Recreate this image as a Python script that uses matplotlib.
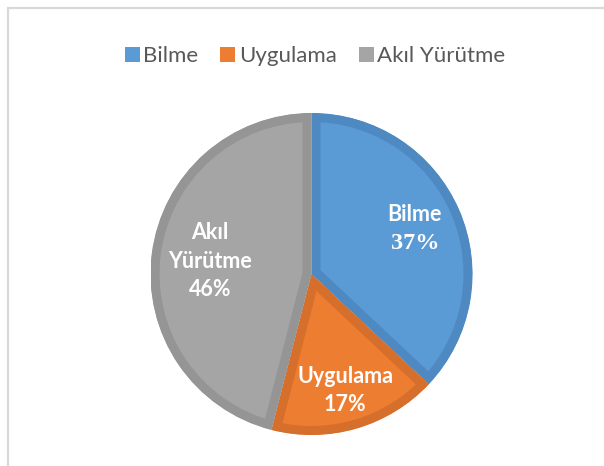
import matplotlib
matplotlib.use("Agg")
import matplotlib.pyplot as plt
import matplotlib.patches as mpatches
import numpy as np

categories = ["Bilme", "Uygulama", "Akıl Yürütme"]
values = [37, 17, 46]
label_lines = [["Bilme", "37%"], ["Uygulama", "17%"], ["Akıl", "Yürütme", "46%"]]

fill_colors = ["#5B9BD5", "#ED7D31", "#A5A5A5"]
edge_colors = ["#4F89C2", "#D56F2B", "#959595"]
label_dist = [0.70, 0.755, 0.635]

W, H = 604, 466
fig = plt.figure(figsize=(W / 100, H / 100), dpi=100)
fig.patch.set_facecolor("white")

# chart frame (light gray border)
frame = mpatches.Rectangle((8 / W, -0.1), 1.2, 1 - 8 / H + 0.1, transform=fig.transFigure,
                           fill=False, edgecolor="#D9D9D9", linewidth=1.6)
fig.add_artist(frame)

cx, cy, r = 311.5, 274, 161
ax = fig.add_axes([(cx - r) / W, (H - cy - r) / H, 2 * r / W, 2 * r / H])
wedges, _ = ax.pie(values, colors=fill_colors, startangle=90, counterclock=False,
                   radius=1.0, wedgeprops=dict(linewidth=13))
for w, ec in zip(wedges, edge_colors):
    w.set_edgecolor(ec)
    w.set_clip_on(True)
    w.set_clip_path(w)
ax.set_xlim(-1, 1)
ax.set_ylim(-1, 1)
ax.set_aspect("auto")
ax.axis("off")

line_h = 28.5 / r
for i, w in enumerate(wedges):
    ang = np.deg2rad((w.theta1 + w.theta2) / 2)
    x = label_dist[i] * np.cos(ang)
    y = label_dist[i] * np.sin(ang)
    lines = label_lines[i]
    n = len(lines)
    for j, t in enumerate(lines):
        yy = y + ((n - 1) / 2 - j) * line_h
        serif = (i == 0 and j == n - 1)
        fam = "Liberation Serif" if serif else "Lato"
        ax.text(x, yy, t, ha="center", va="center", color="white",
                fontsize=17.5 if serif else 15.5, fontweight="bold", family=fam)

handles = [mpatches.Patch(facecolor=c, edgecolor="none") for c in fill_colors]
leg = fig.legend(handles, categories, loc="center", bbox_to_anchor=(315 / W, 1 - 56 / H),
                 ncol=3, frameon=False, prop=dict(family="Lato", size=16),
                 handlelength=0.68, handleheight=0.68, handletextpad=0.15,
                 columnspacing=1.0, labelcolor="#595959")

fig.savefig("out.png", dpi=100, facecolor="white")
